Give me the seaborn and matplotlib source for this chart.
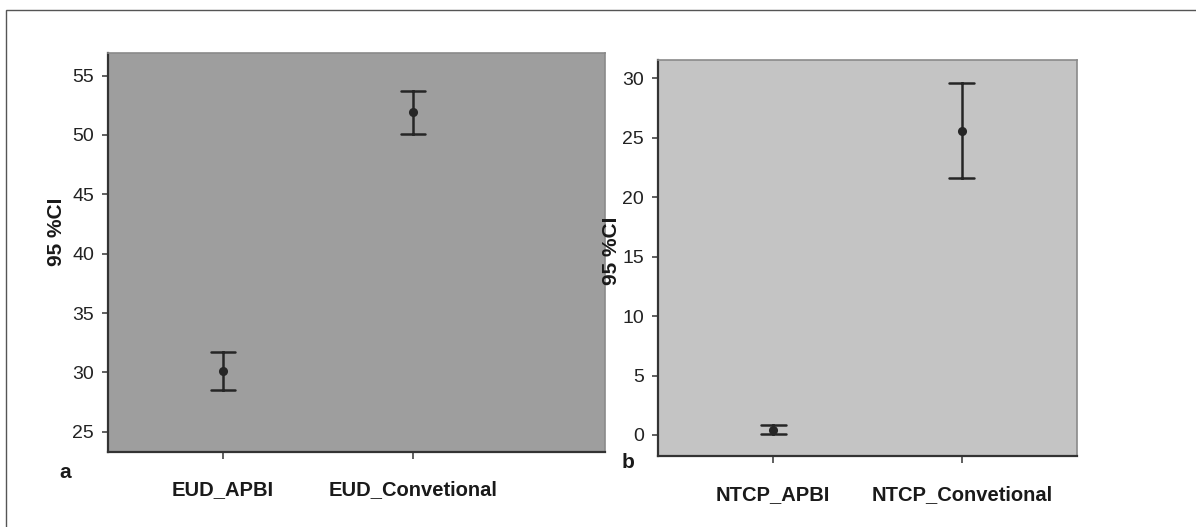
import matplotlib
matplotlib.use("Agg")
import matplotlib.pyplot as plt
import seaborn as sns
import pandas as pd
from matplotlib.patches import Rectangle

# ---- data (lower CI, mean, upper CI) ----
eud_categories = ["EUD_APBI", "EUD_Convetional"]
eud_low = [28.5, 50.1]
eud_mean = [30.1, 51.9]
eud_high = [31.7, 53.7]

ntcp_categories = ["NTCP_APBI", "NTCP_Convetional"]
ntcp_low = [0.1, 21.6]
ntcp_mean = [0.4, 25.6]
ntcp_high = [0.8, 29.6]

eud_ticks = [25, 30, 35, 40, 45, 50, 55]
ntcp_ticks = [0, 5, 10, 15, 20, 25, 30]


def long_form(cats, low, mean, high):
    rows = []
    for c, l, m, h in zip(cats, low, mean, high):
        for v in (l, m, h):
            rows.append({"group": c, "value": v})
    return pd.DataFrame(rows)


sns.set_theme(style="white")
plt.rcParams["font.family"] = ["Liberation Sans", "DejaVu Sans"]

fig = plt.figure(figsize=(11.96, 5.27), dpi=100)

# outer frame (top and left visible)
fig.patches.append(Rectangle((6 / 1196, -0.05), 1.2, 1 - 10 / 527 + 0.05,
                             transform=fig.transFigure, fill=False,
                             edgecolor="#555555", linewidth=1.0))

ax1 = fig.add_axes([108 / 1196, 1 - 452 / 527, 497 / 1196, 399 / 527])
ax2 = fig.add_axes([658 / 1196, 1 - 456 / 527, 419 / 1196, 396 / 527])

panels = [
    (ax1, long_form(eud_categories, eud_low, eud_mean, eud_high), eud_categories,
     eud_ticks, (23.3, 56.9), (-0.605, 2.01), "#9e9e9e", (-0.103, 0.551), "a", (65, 472), 15),
    (ax2, long_form(ntcp_categories, ntcp_low, ntcp_mean, ntcp_high), ntcp_categories,
     ntcp_ticks, (-1.77, 31.54), (-0.612, 1.612), "#c4c4c4", (-0.111, 0.518), "b", (628, 463), 16),
]

for ax, df, cats, ticks, ylim, xlim, face, lab_xy, letter, letter_xy, xpad in panels:
    ax.set_facecolor(face)
    sns.pointplot(data=df, x="group", y="value", order=cats,
                  estimator="median", errorbar=("pi", 100),
                  capsize=0.13, linestyle="none", color="#262626",
                  markers="o", markersize=4.5, err_kws={"linewidth": 1.8},
                  ax=ax)
    ax.set_ylim(*ylim)
    ax.set_xlim(*xlim)
    ax.set_yticks(ticks)
    ax.set_yticklabels([str(t) for t in ticks], fontsize=14, color="#222222")
    ax.set_xticks(range(len(cats)))
    ax.set_xticklabels(cats, fontsize=14.5, fontweight="bold", color="#1a1a1a")
    ax.tick_params(axis="y", which="major", left=True, length=4, width=1.2,
                   color="#444444", pad=6)
    ax.tick_params(axis="x", which="major", bottom=True, length=5, width=1.2,
                   color="#444444", pad=xpad)
    ax.set_xlabel("")
    ax.set_ylabel("95 %CI", fontsize=15, fontweight="bold", color="#1a1a1a")
    ax.yaxis.label.set_va("center")
    ax.yaxis.set_label_coords(*lab_xy)
    for side in ("left", "bottom"):
        ax.spines[side].set_color("#333333")
        ax.spines[side].set_linewidth(1.6)
    for side in ("top", "right"):
        ax.spines[side].set_color("#8a8a8a")
        ax.spines[side].set_linewidth(1.2)
    fig.text(letter_xy[0] / 1196, 1 - letter_xy[1] / 527, letter,
             fontsize=15, fontweight="bold", ha="center", va="center",
             color="#1a1a1a")

fig.savefig("out.png", dpi=100, facecolor="white")
